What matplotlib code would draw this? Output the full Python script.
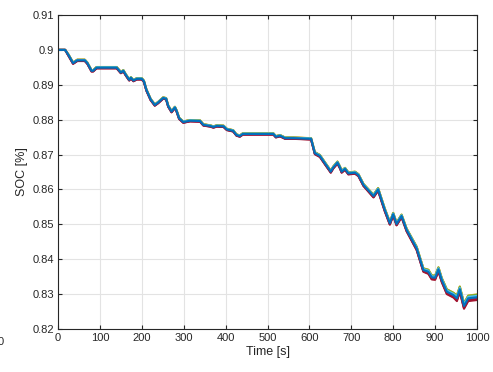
import numpy as np
import matplotlib
matplotlib.use('Agg')
import matplotlib.pyplot as plt

# base SOC trajectory
time_s = [0, 17, 25, 36, 46, 64, 70, 80, 84, 92, 140, 150, 156, 162, 170, 174, 180, 188,
          200, 205, 211, 221, 231, 239, 251, 258, 263, 271, 279, 283, 289, 299, 315, 339,
          347, 363, 371, 379, 395, 403, 418, 426, 434, 441, 514, 520, 530, 542, 562, 604,
          613, 625, 637, 651, 657, 667, 673, 677, 685, 693, 709, 717, 729, 753, 764, 780,
          792, 800, 808, 820, 832, 856, 872, 884, 892, 900, 908, 916, 928, 944, 952, 959,
          969, 979, 1000]
soc_base = [0.9000, 0.9000, 0.8985, 0.8962, 0.8970, 0.8970, 0.8962, 0.8940, 0.8940, 0.8949,
            0.8949, 0.8935, 0.8940, 0.8928, 0.8914, 0.8920, 0.8912, 0.8917,
            0.8917, 0.8910, 0.8885, 0.8858, 0.8842, 0.8849, 0.8862, 0.8860, 0.8839, 0.8823,
            0.8835, 0.8825, 0.8804, 0.8793, 0.8797, 0.8796,
            0.8785, 0.8782, 0.8779, 0.8782, 0.8781, 0.8772, 0.8768, 0.8756, 0.8753, 0.8759,
            0.8759, 0.8751, 0.8754, 0.8747, 0.8747, 0.8745,
            0.8704, 0.8696, 0.8675, 0.8651, 0.8663, 0.8677, 0.8663, 0.8651, 0.8659, 0.8646,
            0.8648, 0.8641, 0.8613, 0.8581, 0.8600, 0.8541,
            0.8503, 0.8529, 0.8501, 0.8524, 0.8484, 0.8431, 0.8369, 0.8364, 0.8348, 0.8347,
            0.8371, 0.8340, 0.8307, 0.8297, 0.8288, 0.8314,
            0.8266, 0.8288, 0.8291]
# spread between the runs, grows over time
spread = [0.0000, 0.0000, 0.0001, 0.0001, 0.0001, 0.0001, 0.0001, 0.0001, 0.0001, 0.0001,
          0.0001, 0.0001, 0.0001, 0.0001, 0.0001, 0.0001, 0.0001, 0.0001,
          0.0001, 0.0001, 0.0001, 0.0001, 0.0001, 0.0001, 0.0001, 0.0001, 0.0001, 0.0001,
          0.0001, 0.0001, 0.0001, 0.0001, 0.0001, 0.0001,
          0.0001, 0.0001, 0.0001, 0.0001, 0.0001, 0.0001, 0.0001, 0.0001, 0.0001, 0.0001,
          0.0001, 0.0001, 0.0001, 0.0001, 0.0001, 0.0001,
          0.00015, 0.00015, 0.00015, 0.00015, 0.00015, 0.00015, 0.00015, 0.00015, 0.00015, 0.00015,
          0.00015, 0.00015, 0.00015, 0.0002, 0.0002, 0.0002,
          0.0002, 0.0002, 0.0002, 0.0002, 0.0002, 0.00025, 0.00025, 0.0003, 0.0003, 0.0003,
          0.0003, 0.0003, 0.00035, 0.00035, 0.0004, 0.0004,
          0.0004, 0.0004, 0.0004]
# per-run offset factor (in units of spread) and MATLAB colours
run_factor = [-2.0, 1.5, 2.0, -1.0, 1.8, 1.0, -1.5, 0.0]
run_color = ['#A2142F', '#D95319', '#EDB120', '#7E2F8E', '#77AC30', '#4DBEEE', '#A2142F', '#0072BD']

plt.rcParams['font.family'] = ['Liberation Sans', 'DejaVu Sans']

fig = plt.figure(figsize=(4.93, 3.72), dpi=100)
ax = fig.add_axes([58 / 493, 1 - 329 / 372, (477 - 58) / 493, (329 - 15) / 372])

t = np.array(time_s)
base = np.array(soc_base)
sp = np.array(spread)
for f, c in zip(run_factor, run_color):
    ax.plot(t, base + f * sp, color=c, lw=1.5, solid_joinstyle='round')

ax.set_xlim(0, 1000)
ax.set_ylim(0.82, 0.91)
ax.set_xticks(np.arange(0, 1001, 100))
ax.set_yticks(np.arange(0.82, 0.911, 0.01))
ax.set_yticklabels(['0.82', '0.83', '0.84', '0.85', '0.86', '0.87', '0.88', '0.89', '0.9', '0.91'])
ax.grid(True, color='#e3e3e3', lw=0.8)
ax.set_axisbelow(True)
ax.tick_params(direction='in', length=3, width=0.8, top=True, right=True,
               labelsize=8, colors='#262626', pad=3)
for s in ax.spines.values():
    s.set_color('#262626')
    s.set_linewidth(0.8)
ax.set_xlabel('Time [s]', fontsize=9, color='#262626', labelpad=2)
ax.set_ylabel('SOC [%]', fontsize=9, color='#262626', labelpad=3)

# clipped label from a neighbouring panel
fig.text(-0.004, 1 - 342 / 372, '0', fontsize=8, color='#262626', va='center', ha='left')

fig.savefig('out.png', dpi=100)
